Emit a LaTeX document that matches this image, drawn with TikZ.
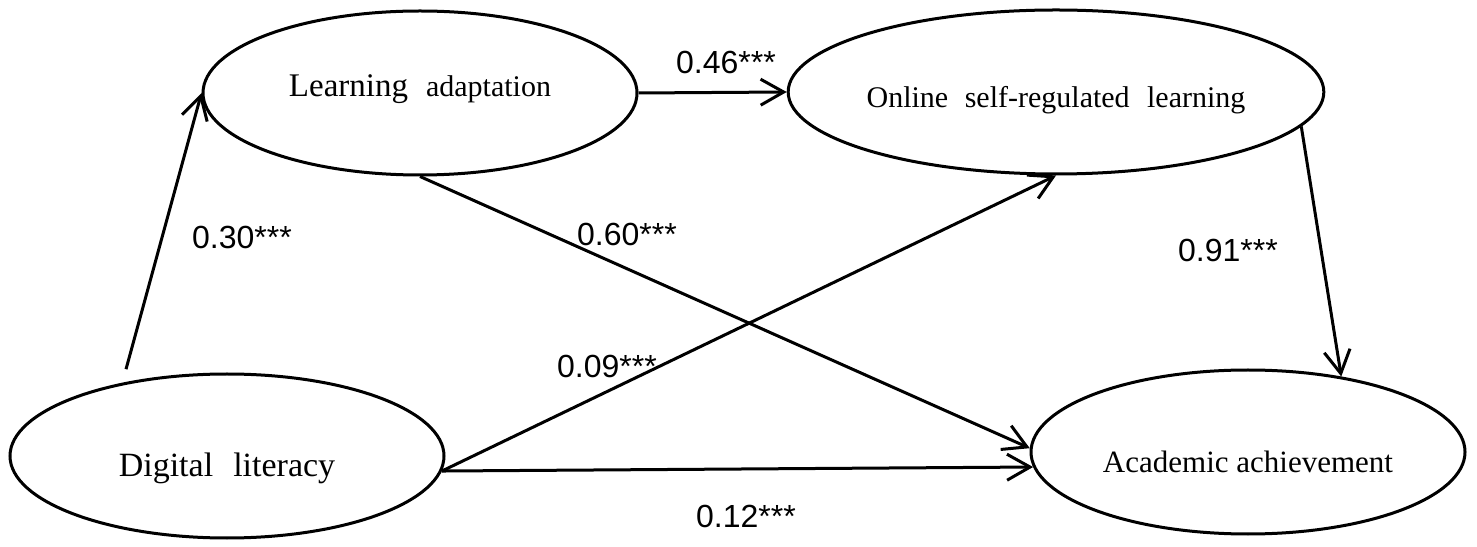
\documentclass[tikz,border=0pt]{standalone}
\usepackage{fontspec}
\setmainfont{Liberation Serif}
\setsansfont{Liberation Sans}
\usetikzlibrary{shapes.geometric,arrows.meta}
\begin{document}
\begin{tikzpicture}
		[x=1pt,y=1pt,
		mynode/.style={ellipse,draw,line width=3pt,minimum width=434pt,minimum height=164pt,inner sep=0pt,text depth=0pt,font=\fontsize{30}{36}\selectfont},
		coef/.style={font=\sffamily\fontsize{32}{38}\selectfont,inner sep=0pt},
		myarrow/.style={line width=3pt,-{Straight Barb[length=23pt,width=26pt]}}]
		\useasboundingbox (0,0) rectangle (1477,546);
		\node[mynode,name=la,text height=8pt] at (420,453) {{\fontsize{33}{40}\selectfont Learning}\hspace{0.35em} adaptation};
		\node[mynode,name=osrl,text height=31pt] at (1056,454) {Online\hspace{0.3em} self-regulated\hspace{0.33em} learning};
		\node[mynode,name=dl,text height=42pt,font=\fontsize{34}{40}\selectfont] at (227,90) {Digital\hspace{0.34em} literacy};
		\node[mynode,name=aa,text height=40pt,font=\fontsize{31}{37}\selectfont] at (1248,94) {Academic achievement};
		\draw[myarrow,shorten <=14pt] (dl.145) -- (la.west);
		\draw[myarrow] (la.east) -- (osrl.west);
		\draw[myarrow] (la.south) -- (aa.179);
		\draw[myarrow] (dl.-4) -- (osrl.south);
		\draw[myarrow] (dl.-4) -- (aa.184);
		\draw[myarrow] (osrl.-8) -- (aa.39);
		\node[coef,name=c1] at (242,309) {0.30***};
		\node[coef,name=c2] at (726,484) {0.46***};
		\node[coef,name=c3] at (627,312) {0.60***};
		\node[coef,name=c4] at (1228,296) {0.91***};
		\node[coef,name=c5] at (607,180) {0.09***};
		\node[coef,name=c6] at (746,30) {0.12***};
	\end{tikzpicture}
\end{document}
